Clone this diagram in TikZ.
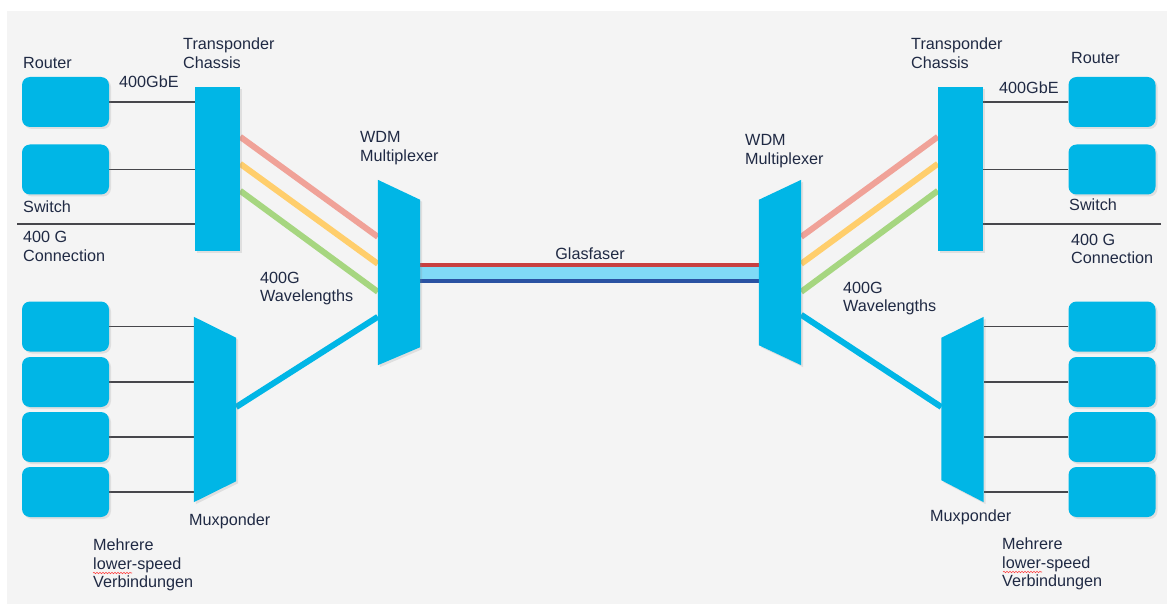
\documentclass[tikz,border=0pt]{standalone}
\usepackage{fontspec}
\setmainfont{Liberation Sans}
\usetikzlibrary{positioning, calc, shadows, decorations.pathmorphing}
\definecolor{devcyan}{RGB}{0, 182, 230}
\definecolor{bggray}{RGB}{244, 244, 244}
\definecolor{textnavy}{RGB}{32, 42, 68}
\definecolor{wiregray}{RGB}{70, 70, 75}
\definecolor{wlpink}{RGB}{240, 162, 152}
\definecolor{wlyellow}{RGB}{255, 206, 108}
\definecolor{wlgreen}{RGB}{166, 214, 128}
\definecolor{fibred}{RGB}{200, 64, 64}
\definecolor{fiblight}{RGB}{128, 218, 246}
\definecolor{fibblue}{RGB}{42, 82, 162}
\pgfdeclarelayer{bg}
\pgfdeclarelayer{wires}
\pgfsetlayers{bg,wires,main}

\begin{document}
\begin{tikzpicture}[x=1pt, y=-1pt,
  dev/.style={fill=devcyan, rounded corners=8pt, minimum width=87pt, minimum height=50pt,
              inner sep=0pt, drop shadow={shadow xshift=2pt, shadow yshift=-2pt, opacity=0.18}},
  chassis/.style={fill=devcyan, minimum width=45pt, minimum height=164pt, inner sep=0pt,
              drop shadow={shadow xshift=2pt, shadow yshift=-2pt, opacity=0.18}},
  frame/.style={minimum width=42pt, minimum height=185pt, inner sep=0pt},
  trap/.style={fill=devcyan, drop shadow={shadow xshift=2pt, shadow yshift=-2pt, opacity=0.18}},
  lbl/.style={font=\fontsize{16.2}{18.5}\selectfont, text=textnavy, inner sep=0pt,
              align=left, anchor=west},
  wire/.style={draw=wiregray, line width=1.4pt},
  lambda/.style={line width=6pt},
  squiggle/.style={draw=red!75, line width=0.6pt,
              decorate, decoration={snake, amplitude=0.7pt, segment length=3pt}},
]
\begin{pgfonlayer}{bg}
\fill[white] (0,0) rectangle (1167,604);
\fill[bggray] (7,11) rectangle (1167,604);
\end{pgfonlayer}

% Left end
\node[dev] (routerL) at (65.5,102) {};
\node[dev] (switchL) at (65.5,169.5) {};
\node[chassis] (chassisL) at (217.5,169) {};
\node[frame] (wdmL) at (399,272.5) {};
\node[frame] (muxL) at (215,409.5) {};
\foreach \i/\y in {1/326.5, 2/382, 3/437, 4/492}
  \node[dev] (lowL\i) at (65.5,\y) {};
\coordinate (connL) at (17,224);

% Right end
\node[dev] (routerR) at (1112,102) {};
\node[dev] (switchR) at (1112,169.5) {};
\node[chassis] (chassisR) at (960.5,169) {};
\node[frame] (wdmR) at (780,272.5) {};
\node[frame] (muxR) at (962.5,409.5) {};
\foreach \i/\y in {1/326.5, 2/382, 3/437, 4/492}
  \node[dev] (lowR\i) at (1112,\y) {};
\coordinate (connR) at (1161,224);

% Multiplexer shapes
\fill[trap] (wdmL.north west) -- ([yshift=-20pt]wdmL.north east)
  -- ([yshift=18pt]wdmL.south east) -- (wdmL.south west) -- cycle;
\fill[trap] (muxL.north west) -- ([yshift=-21pt]muxL.north east)
  -- ([yshift=21pt]muxL.south east) -- (muxL.south west) -- cycle;
\fill[trap] (wdmR.north east) -- ([yshift=-20pt]wdmR.north west)
  -- ([yshift=20pt]wdmR.south west) -- (wdmR.south east) -- cycle;
\fill[trap] (muxR.north east) -- ([yshift=-21pt]muxR.north west)
  -- ([yshift=22pt]muxR.south west) -- (muxR.south east) -- cycle;

\begin{pgfonlayer}{wires}
% client wires
\draw[wire] (routerL.east) -- (routerL.east -| chassisL.west);
\draw[wire] (switchL.east) -- (switchL.east -| chassisL.west);
\draw[wire] (connL) -- (connL -| chassisL.west);
\draw[wire] (routerR.west) -- (routerR.west -| chassisR.east);
\draw[wire] (switchR.west) -- (switchR.west -| chassisR.east);
\draw[wire] (connR) -- (connR -| chassisR.east);
\foreach \i in {1,...,4} {
  \draw[wire] (lowL\i.east) -- (lowL\i.east -| muxL.west);
  \draw[wire] (lowR\i.west) -- (lowR\i.west -| muxR.east);
}
% wavelengths
\foreach \c/\a/\b in {wlpink/50/57, wlyellow/77/84, wlgreen/104/112} {
  \draw[lambda, \c] ([yshift=-\a pt]chassisL.north east) -- ([yshift=-\b pt]wdmL.north west);
  \draw[lambda, \c] ([yshift=-\a pt]chassisR.north west) -- ([yshift=-\b pt]wdmR.north east);
}
\draw[lambda, devcyan] ([yshift=2.5pt]muxL.east) -- ([yshift=-137pt]wdmL.north west);
\draw[lambda, devcyan] ([yshift=2.5pt]muxR.west) -- ([yshift=-135pt]wdmR.north east);
% fibre
\draw[line width=12pt, fiblight] (wdmL.east) -- (wdmR.west);
\draw[line width=4pt, fibred] ([yshift=7.5pt]wdmL.east) -- ([yshift=7.5pt]wdmR.west);
\draw[line width=4pt, fibblue] ([yshift=-8.5pt]wdmL.east) -- ([yshift=-8.5pt]wdmR.west);
\end{pgfonlayer}

% Labels
\node[lbl] (lRouterL) at (23,63) {Router};
\node[lbl] (lGbeL) at (119,82) {400GbE};
\node[lbl] (lChassisL) at (183,53) {Transponder\\Chassis};
\node[lbl] (lSwitchL) at (23,207) {Switch};
\node[lbl] (lConnL) at (23,246.5) {400 G\\Connection};
\node[lbl] (lWdmL) at (360,148) {WDM\\Multiplexer};
\node[lbl] (lWaveL) at (260,288.5) {400G\\Wavelengths};
\node[lbl] (lMuxL) at (189,521) {Muxponder};
\node[lbl] (lMultiL) at (93,565) {Mehrere\\lower-speed\\Verbindungen};

\node[lbl, anchor=center] (lGlas) at (590,254) {Glasfaser};

\node[lbl] (lRouterR) at (1071,58) {Router};
\node[lbl] (lGbeR) at (999,88) {400GbE};
\node[lbl] (lChassisR) at (911,53) {Transponder\\Chassis};
\node[lbl] (lSwitchR) at (1069,205) {Switch};
\node[lbl] (lConnR) at (1071,249) {400 G\\Connection};
\node[lbl] (lWdmR) at (745,151) {WDM\\Multiplexer};
\node[lbl] (lWaveR) at (843,298.5) {400G\\Wavelengths};
\node[lbl] (lMuxR) at (930,517) {Muxponder};
\node[lbl] (lMultiR) at (1002,564) {Mehrere\\lower-speed\\Verbindungen};

% spell-check marks
\draw[squiggle] ($(lMultiL.west)+(0,8)$) -- ($(lMultiL.west)+(39,8)$);
\draw[squiggle] ($(lMultiR.west)+(1,8)$) -- ($(lMultiR.west)+(40,8)$);
\end{tikzpicture}
\end{document}
